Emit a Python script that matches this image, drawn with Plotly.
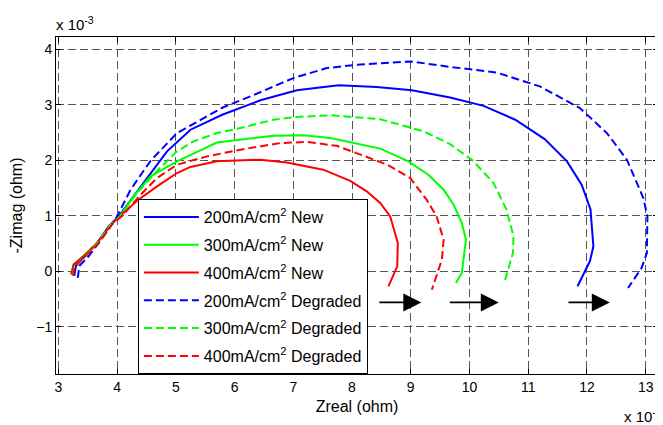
import plotly.graph_objects as go

# ---- data (values in units of 1e-3 ohm) ----
x_200_new = [3.27, 3.30, 3.45, 3.65, 3.85, 4.03, 4.28, 4.62, 4.85, 5.25, 5.79, 6.44, 7.06, 7.77, 8.42, 9.02, 9.67, 10.24, 10.78, 11.28, 11.66, 11.91, 12.06, 12.11, 12.05, 11.84]
y_200_new = [-0.08, 0.10, 0.27, 0.50, 0.80, 0.99, 1.35, 1.83, 2.16, 2.55, 2.82, 3.08, 3.26, 3.35, 3.32, 3.26, 3.13, 2.98, 2.73, 2.38, 1.98, 1.56, 1.12, 0.45, 0.18, -0.27]

x_300_new = [3.22, 3.26, 3.42, 3.65, 3.88, 4.05, 4.28, 4.57, 5.02, 5.70, 6.66, 7.17, 7.63, 8.48, 8.96, 9.30, 9.56, 9.73, 9.87, 9.94, 9.87, 9.77]
y_300_new = [-0.05, 0.12, 0.27, 0.50, 0.82, 0.99, 1.35, 1.71, 1.98, 2.32, 2.44, 2.45, 2.40, 2.21, 1.98, 1.74, 1.47, 1.20, 0.87, 0.57, -0.03, -0.21]

x_400_new = [3.22, 3.26, 3.43, 3.66, 3.91, 4.05, 4.34, 4.68, 5.02, 5.25, 5.70, 6.44, 6.89, 7.51, 7.97, 8.25, 8.48, 8.65, 8.78, 8.77, 8.62]
y_400_new = [-0.06, 0.12, 0.27, 0.51, 0.86, 0.99, 1.27, 1.53, 1.77, 1.88, 1.98, 2.01, 1.96, 1.83, 1.63, 1.44, 1.23, 0.99, 0.51, 0.09, -0.27]

x_200_deg = [3.33, 3.36, 3.50, 3.68, 3.88, 4.00, 4.23, 4.57, 5.02, 5.42, 5.80, 6.27, 7.00, 7.57, 8.08, 9.00, 9.61, 10.46, 11.20, 11.88, 12.34, 12.68, 12.96, 13.03, 13.02, 12.93, 12.70]
y_200_deg = [-0.12, 0.10, 0.25, 0.50, 0.80, 0.99, 1.47, 1.99, 2.49, 2.73, 2.95, 3.15, 3.48, 3.66, 3.72, 3.78, 3.69, 3.58, 3.33, 2.94, 2.49, 2.01, 1.32, 0.99, 0.33, 0.06, -0.30]

x_300_deg = [3.24, 3.28, 3.44, 3.66, 3.88, 4.05, 4.34, 4.70, 5.02, 5.30, 5.70, 6.10, 6.66, 7.06, 7.63, 8.25, 8.48, 9.22, 9.67, 10.05, 10.41, 10.63, 10.75, 10.74, 10.59]
y_300_deg = [-0.07, 0.10, 0.26, 0.50, 0.82, 0.99, 1.41, 1.83, 2.16, 2.34, 2.49, 2.58, 2.73, 2.78, 2.81, 2.76, 2.74, 2.52, 2.29, 2.00, 1.59, 1.11, 0.63, 0.33, -0.22]

x_400_deg = [3.25, 3.28, 3.45, 3.68, 3.92, 4.11, 4.40, 4.68, 5.02, 5.53, 6.10, 6.78, 7.23, 7.74, 8.20, 8.60, 8.99, 9.27, 9.44, 9.56, 9.53, 9.36]
y_400_deg = [-0.08, 0.10, 0.26, 0.50, 0.85, 1.02, 1.38, 1.68, 1.92, 2.07, 2.19, 2.31, 2.33, 2.26, 2.08, 1.92, 1.68, 1.29, 0.99, 0.57, 0.21, -0.33]

# arrows (start x, end x, y)
arrow_x_start = [8.44, 9.64, 11.66]
arrow_x_end = [9.18, 10.50, 12.39]
arrow_y = [-0.56, -0.56, -0.56]

x_ticks = list(range(3, 14))
y_ticks = [-1, 0, 1, 2, 3, 4]

FONT = "Liberation Sans, Arial, sans-serif"

series = [
    ("200mA/cm<sup>2</sup> New", x_200_new, y_200_new, "#0000ff", "solid"),
    ("300mA/cm<sup>2</sup> New", x_300_new, y_300_new, "#00ff00", "solid"),
    ("400mA/cm<sup>2</sup> New", x_400_new, y_400_new, "#ff0000", "solid"),
    ("200mA/cm<sup>2</sup> Degraded", x_200_deg, y_200_deg, "#0000ff", "8px,4px"),
    ("300mA/cm<sup>2</sup> Degraded", x_300_deg, y_300_deg, "#00ff00", "8px,4px"),
    ("400mA/cm<sup>2</sup> Degraded", x_400_deg, y_400_deg, "#ff0000", "8px,4px"),
]

fig = go.Figure()
for i, (name, xs, ys, col, dash) in enumerate(series):
    fig.add_trace(go.Scatter(x=xs, y=ys, mode="lines", name=name,
                             legendgroup="g%d" % i,
                             line=dict(color=col, width=2, dash=dash)))

for xs, xe, ya in zip(arrow_x_start, arrow_x_end, arrow_y):
    fig.add_annotation(x=xe, y=ya, ax=xs, ay=ya, xref="x", yref="y",
                       axref="x", ayref="y", text="", showarrow=True,
                       arrowhead=2, arrowsize=2.0, arrowwidth=1.8,
                       arrowcolor="black")

fig.add_annotation(x=0, y=1, xref="paper", yref="paper", xanchor="left",
                   yanchor="bottom", yshift=2, xshift=-2, showarrow=False,
                   text="x 10<sup>-3</sup>", font=dict(family=FONT, size=15, color="black"))
fig.add_annotation(x=1, y=0, xref="paper", yref="paper", xanchor="right",
                   yanchor="top", xshift=6, yshift=-30, showarrow=False,
                   text="x 10<sup>-3</sup>", font=dict(family=FONT, size=15, color="black"))

axis_common = dict(
    showline=True, linecolor="black", linewidth=1, mirror="ticks",
    ticks="inside", ticklen=5, tickcolor="black",
    showgrid=True, gridcolor="#555555", gridwidth=1, griddash="8px,4px",
    zeroline=False, automargin=False,
    tickfont=dict(family=FONT, size=14, color="black"),
)

# the page body adds an 8px offset, so the figure is 8px smaller and the
# left/top margins are 8px smaller to land the plot where the reference has it
fig.update_layout(
    width=655, height=417,
    margin=dict(l=48, r=5, t=29, b=51, autoexpand=False),
    paper_bgcolor="white", plot_bgcolor="white",
    font=dict(family=FONT, size=14, color="black"),
    xaxis=dict(range=[2.96, 13.21], tickvals=x_ticks,
               title=dict(text="Zreal (ohm)", standoff=7, font=dict(size=16)),
               **axis_common),
    yaxis=dict(range=[-1.85, 4.22], tickvals=y_ticks,
               title=dict(text="-Zimag (ohm)", standoff=9, font=dict(size=16)),
               **axis_common),
    legend=dict(x=0.136, y=0, xanchor="left", yanchor="bottom",
                bgcolor="white", bordercolor="black", borderwidth=1,
                font=dict(family=FONT, size=16, color="black"),
                itemwidth=55, tracegroupgap=4, traceorder="grouped"),
    showlegend=True,
)

fig.write_html("out.html")
